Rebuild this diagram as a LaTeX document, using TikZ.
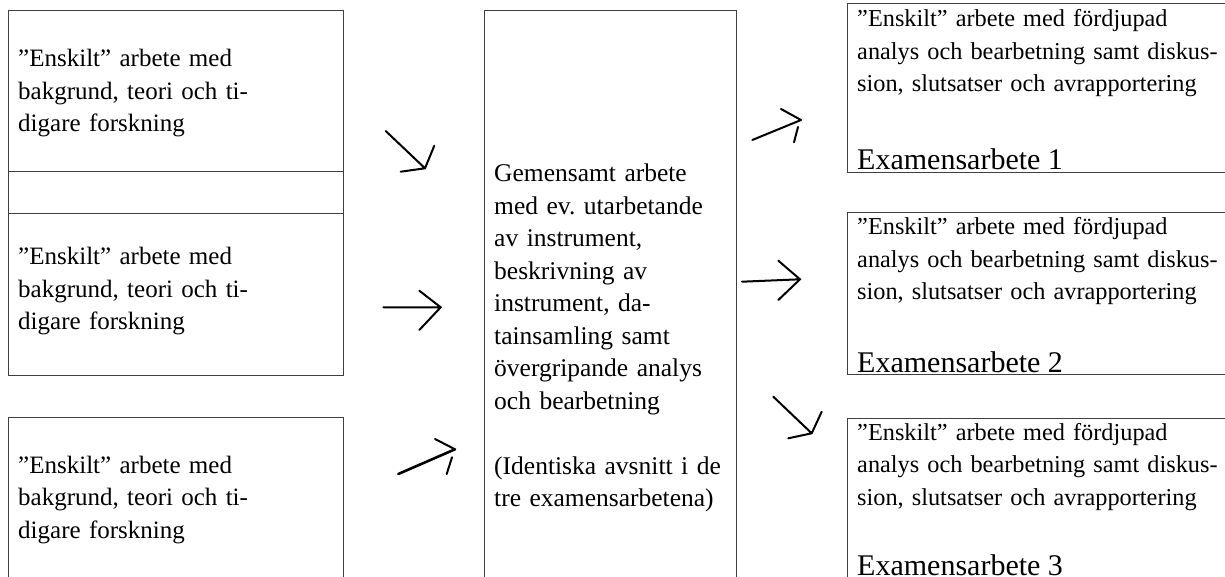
\documentclass[tikz,border=0pt]{standalone}
\usepackage{fontspec}
\setmainfont{Liberation Serif}
\frenchspacing
\begin{document}
\begin{tikzpicture}[x=1pt,y=-1pt,
  box/.style={draw=black!75,line width=1.2pt,inner sep=0pt},
  txt/.style={anchor=base west,inner sep=0pt,align=left,text width=#1,
    font=\fontsize{25}{32.5}\selectfont},
  mtxt/.style={anchor=base west,inner sep=0pt,align=left,text width=#1,
    font=\fontsize{25.5}{32.5}\selectfont},
  rtxt/.style={anchor=base west,inner sep=0pt,align=left,text width=#1,
    font=\fontsize{24.3}{32.5}\selectfont},
  lbl/.style={anchor=base west,inner sep=0pt,font=\fontsize{30}{36}\selectfont},
  pen/.style={line width=2pt,line cap=round}]
\useasboundingbox (0,0) rectangle (1225,577);
\clip (0,0) rectangle (1225,577);
% left boxes
\node[box,minimum width=335pt,minimum height=161pt,anchor=north west] (l1) at (8,10) {};
\node[box,minimum width=335pt,minimum height=42pt,anchor=north west] (lm) at (8,171) {};
\node[box,minimum width=335pt,minimum height=162pt,anchor=north west] (l2) at (8,213) {};
\node[box,minimum width=335pt,minimum height=200pt,anchor=north west] (l3) at (8,417) {};
% middle box
\node[box,minimum width=252pt,minimum height=600pt,anchor=north west] (m) at (484,10) {};
% right boxes
\node[box,minimum width=400pt,minimum height=169pt,anchor=north west] (r1) at (847,3) {};
\node[box,minimum width=400pt,minimum height=162pt,anchor=north west] (r2) at (847,212) {};
\node[box,minimum width=400pt,minimum height=200pt,anchor=north west] (r3) at (847,418) {};
% texts
\node[txt=320pt] (t1) at (18,67) {”Enskilt” arbete med\\bakgrund, teori och ti-\\digare forskning};
\node[txt=320pt] (t2) at (18,265) {”Enskilt” arbete med\\bakgrund, teori och ti-\\digare forskning};
\node[txt=320pt] (t3) at (18,473) {”Enskilt” arbete med\\bakgrund, teori och ti-\\digare forskning};
\node[mtxt=245pt] (tm) at (494,182) {Gemensamt arbete\\med ev. utarbetande\\av instrument,\\beskrivning av\\instrument, da-\\tainsamling samt\\övergripande analys\\och bearbetning\\[32.5pt](Identiska avsnitt i de\\tre examensarbetena)};
\node[rtxt=420pt] (tr1) at (857,27) {”Enskilt” arbete med fördjupad\\analys och bearbetning samt diskus-\\sion, slutsatser och avrapportering};
\node[rtxt=420pt] (tr2) at (857,235) {”Enskilt” arbete med fördjupad\\analys och bearbetning samt diskus-\\sion, slutsatser och avrapportering};
\node[rtxt=420pt] (tr3) at (857,440) {”Enskilt” arbete med fördjupad\\analys och bearbetning samt diskus-\\sion, slutsatser och avrapportering};
\node[lbl] (e1) at (857,170) {Examensarbete 1};
\node[lbl] (e2) at (857,372) {Examensarbete 2};
\node[lbl] (e3) at (857,575) {Examensarbete 3};
% hand-drawn arrows
\coordinate (a1s) at (385.7,131); \coordinate (a1t) at (425,168.3);
\coordinate (a1h) at (400.7,171.7); \coordinate (a1k) at (434.3,145.7);
\draw[pen] (a1s) -- (a1t) (a1h) -- (a1t) -- (a1k);
\coordinate (a2s) at (383.3,307.3); \coordinate (a2t) at (440.7,307.3);
\coordinate (a2h) at (419.3,290.7); \coordinate (a2k) at (419.3,330);
\draw[pen] (a2s) -- (a2t) (a2h) -- (a2t) -- (a2k);
\coordinate (a3s) at (398.3,474); \coordinate (a3t) at (455,449.3);
\coordinate (a3h) at (435,439); \coordinate (a3k) at (446.7,474);
\draw[pen,line width=2.6pt] (a3s) -- (a3t);
\draw[pen] (a3h) -- (a3t) (a3t) ++(-3,8) -- (a3k);
\coordinate (a4s) at (752.3,140); \coordinate (a4t) at (801,120);
\coordinate (a4h) at (781,109); \coordinate (a4k) at (794,142.3);
\draw[pen] (a4s) -- (a4t) (a4h) -- (a4t) (a4t) ++(-3,7) -- (a4k);
\coordinate (a5s) at (742,281.7); \coordinate (a5t) at (800,279.3);
\coordinate (a5h) at (778.3,260.7); \coordinate (a5k) at (778.3,300);
\draw[pen] (a5s) -- (a5t) (a5h) -- (a5t) -- (a5k);
\coordinate (a6s) at (773.3,396.7); \coordinate (a6t) at (811.7,433.3);
\coordinate (a6h) at (788.3,438.3); \coordinate (a6k) at (821.7,411.7);
\draw[pen] (a6s) -- (a6t) (a6h) -- (a6t) -- (a6k);
\end{tikzpicture}
\end{document}
